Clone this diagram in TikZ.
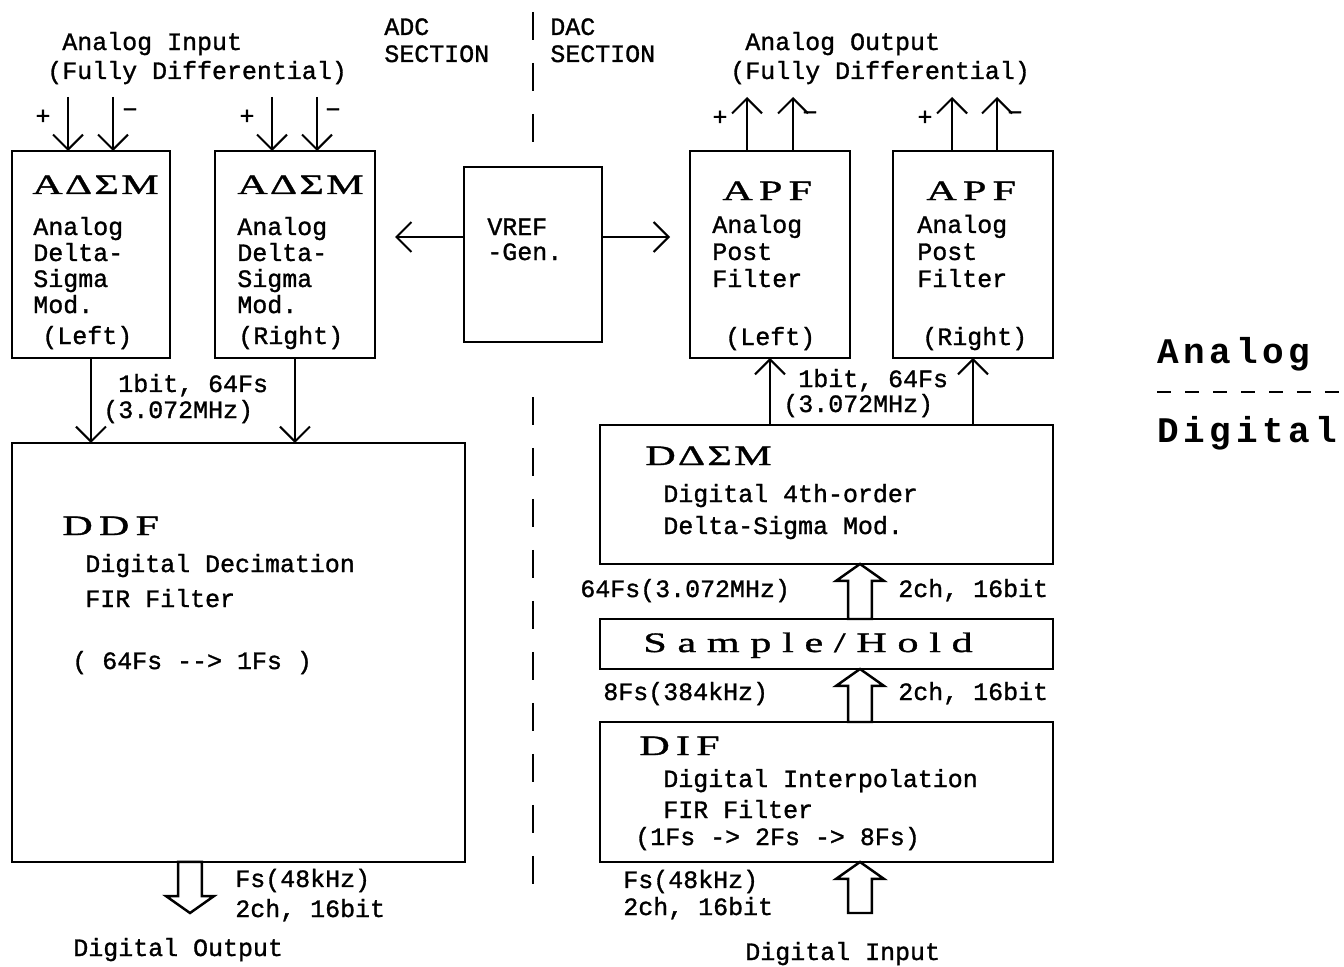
\documentclass[tikz,border=0pt]{standalone}
\usepackage{fontspec}
\usetikzlibrary{positioning, arrows.meta, calc}
\newfontfamily\bodyfont[FakeBold=1.2]{Liberation Mono}
\newfontfamily\titlefont[FakeStretch=1.5, LetterSpace=22, FakeBold=1.2]{Liberation Serif}
\newfontfamily\legendfont[LetterSpace=13]{Liberation Mono}
\tikzset{
  blk/.style={draw, line width=1.5pt, fill=white, inner sep=0pt, outer sep=0pt,
    anchor=north west},
  txt/.style={font=\bodyfont\fontsize{14.2}{#1}\selectfont, inner sep=0pt,
    anchor=base west, align=left},
  txt/.default=14.8,
  ttl/.style={font=\titlefont\fontsize{16}{18}\selectfont, inner sep=0pt,
    anchor=base west},
  greekttl/.style={ttl, font=\titlefont\fontsize{16}{18}\selectfont\addfontfeature{LetterSpace=8}},
  pm/.style={font=\bodyfont\fontsize{14.2}{15}\selectfont, inner sep=0pt},
  sig/.style={-{Straight Barb[length=0.3cm, width=0.6cm]}, line width=1.2pt},
  fat/.style={line width=1.4pt, fill=white, line join=miter},
  divider/.style={line width=1.3pt, dash pattern=on 0.56cm off 0.46cm},
  legend/.style={font=\legendfont\bfseries\fontsize{20.5}{24}\selectfont,
    inner sep=0pt, anchor=base west},
}
% hollow block arrow: tail, tip, sign (- up, + down)
\newcommand{\fatarrow}[3]{%
  \draw[fat] let \p1=(#1), \p2=(#2) in
    ({\x1-6.8pt},\y1) -- ({\x1-6.8pt},{\y2 #3 9.6pt}) -- ({\x1-13.6pt},{\y2 #3 9.6pt})
    -- (\x1,\y2) -- ({\x1+13.6pt},{\y2 #3 9.6pt}) -- ({\x1+6.8pt},{\y2 #3 9.6pt})
    -- ({\x1+6.8pt},\y1) -- cycle;}

\begin{document}
\begin{tikzpicture}[x=0.02cm, y=-0.02cm]
  \useasboundingbox (0,0) rectangle (1344,966);

  % === Section headings and divider ===
  % (multi-line nodes sit on the baseline of their last line)
  \node[txt=15.4] (adcHead) at (384,62) {ADC\\SECTION};
  \node[txt=15.4] (dacHead) at (550,62) {DAC\\SECTION};
  \draw[divider] (533,12) -- (533,150);
  \draw[divider] (533,397) -- (533,885);

  % === ADC side ===
  \node[txt=16.5] (inLabel) at (47,79) {~Analog Input\\(Fully Differential)};
  \node[blk, minimum width=3.16cm, minimum height=4.14cm] (admL) at (12,151) {};
  \node[blk, minimum width=3.2cm, minimum height=4.14cm] (admR) at (215,151) {};
  \node[greekttl] (admLt) at (32,194) {AΔΣM};
  \node[txt] (admLb) at (33,313) {Analog\\Delta-\\Sigma\\Mod.};
  \node[txt] (admLs) at (42,344) {(Left)};
  \node[greekttl] (admRt) at (237,194) {AΔΣM};
  \node[txt] (admRb) at (237,313) {Analog\\Delta-\\Sigma\\Mod.};
  \node[txt] (admRs) at (238,344) {(Right)};

  \node[blk, minimum width=9.06cm, minimum height=8.38cm] (ddf) at (12,443) {};
  \node[ttl] (ddft) at (62,535) {DDF};
  \node[txt=19.9] (ddfb) at (85,607) {Digital Decimation\\FIR Filter};
  \node[txt] (ddfr) at (72,669) {( 64Fs {-}{-}> 1Fs )};

  % differential inputs
  \coordinate (inLp) at (68,97);
  \coordinate (inLm) at (113,97);
  \coordinate (inRp) at (272,97);
  \coordinate (inRm) at (317,97);
  \foreach \c in {inLp,inLm} \draw[sig] (\c) -- (\c |- admL.north);
  \foreach \c in {inRp,inRm} \draw[sig] (\c) -- (\c |- admR.north);
  \node[pm] (pLp) at (43,117) {+};
  \node[pm] (pLm) at (130,113) {−};
  \node[pm] (pRp) at (247,117) {+};
  \node[pm] (pRm) at (333,113) {−};

  % modulators -> decimation filter
  \draw[sig] (admL) -- (admL |- ddf.north);
  \draw[sig] (admR) -- (admR |- ddf.north);
  \node[txt=14.8] (adcRate) at (103,418) {~1bit, 64Fs\\(3.072MHz)};

  % digital output
  \coordinate (hxo) at (190,0);
  \coordinate (doutTip) at (190,913);
  \fatarrow{ddf.south -| hxo}{doutTip}{+}
  \node[txt=17.1] (doutRate) at (235,917) {Fs(48kHz)\\2ch, 16bit};
  \node[txt] (dout) at (73,956) {Digital Output};

  % === VREF generator ===
  \node[blk, minimum width=2.76cm, minimum height=3.5cm] (vref) at (464,167) {};
  \node[txt=14.2] (vrefb) at (487,260) {VREF\\-Gen.};
  \coordinate (vrefL) at (395,237);
  \coordinate (vrefR) at (670,237);
  \draw[sig] (vref.west |- vrefL) -- (vrefL);
  \draw[sig] (vref.east |- vrefR) -- (vrefR);

  % === DAC side ===
  \node[txt=16.5] (outLabel) at (730,79) {~Analog Output\\(Fully Differential)};
  \node[blk, minimum width=3.2cm, minimum height=4.14cm] (apfL) at (690,151) {};
  \node[blk, minimum width=3.2cm, minimum height=4.14cm] (apfR) at (893,151) {};
  \node[ttl] (apfLt) at (722,200) {APF};
  \node[txt=15.4] (apfLb) at (712,287) {Analog\\Post\\Filter};
  \node[txt] (apfLs) at (725,345) {(Left)};
  \node[ttl] (apfRt) at (926,200) {APF};
  \node[txt=15.4] (apfRb) at (917,287) {Analog\\Post\\Filter};
  \node[txt] (apfRs) at (922,345) {(Right)};

  % differential outputs
  \coordinate (outLp) at (747,97);
  \coordinate (outLm) at (793,97);
  \coordinate (outRp) at (952,97);
  \coordinate (outRm) at (997,97);
  \foreach \c in {outLp,outLm} \draw[sig] (\c |- apfL.north) -- (\c);
  \foreach \c in {outRp,outRm} \draw[sig] (\c |- apfR.north) -- (\c);
  \node[pm] (qLp) at (720,118) {+};
  \node[pm] (qLm) at (810,116) {−};
  \node[pm] (qRp) at (925,118) {+};
  \node[pm] (qRm) at (1015,116) {−};

  \node[blk, minimum width=9.06cm, minimum height=2.78cm] (dsm) at (600,425) {};
  \node[greekttl] (dsmt) at (645,465) {DΔΣM};
  \node[txt=18.2] (dsmb) at (663,534) {Digital 4th-order\\Delta-Sigma Mod.};

  \node[blk, minimum width=9.06cm, minimum height=1.0cm] (sh) at (600,619) {};
  \node[ttl] (sht) at (643,652) {\addfontfeature{LetterSpace=38}Sample/Hold};

  \node[blk, minimum width=9.06cm, minimum height=2.8cm] (dif) at (600,722) {};
  \node[ttl] (dift) at (639,755) {DIF};
  \node[txt=17.6] (difb) at (663,818) {Digital Interpolation\\FIR Filter};
  \node[txt] (difr) at (635,845) {(1Fs -> 2Fs -> 8Fs)};

  % modulator -> post filters
  \draw[sig] (apfL |- dsm.north) -- (apfL);
  \draw[sig] (apfR |- dsm.north) -- (apfR);
  \node[txt=14.2] (dacRate) at (783,412) {~1bit, 64Fs\\(3.072MHz)};

  % wide data paths
  \coordinate (hx) at (860,0);
  \coordinate (dinTail) at (860,913);
  \fatarrow{sh.north -| hx}{dsm.south -| hx}{-}
  \fatarrow{dif.north -| hx}{sh.south -| hx}{-}
  \fatarrow{dinTail}{dif.south -| hx}{-}
  \node[txt] (shRate) at (580,597) {64Fs(3.072MHz)};
  \node[txt] (shBits) at (898,597) {2ch, 16bit};
  \node[txt] (difRate) at (603,700) {8Fs(384kHz)};
  \node[txt] (difBits) at (898,700) {2ch, 16bit};
  \node[txt=15.4] (dinRate) at (623,915) {Fs(48kHz)\\2ch, 16bit};
  \node[txt] (din) at (745,960) {Digital Input};

  % === Legend ===
  \node[legend] (lgA) at (1157,363) {Analog};
  \node[legend] (lgD) at (1157,442) {Digital};
  \draw[line width=1.3pt, dash pattern=on 0.28cm off 0.28cm] (lgA.west |- 0,392) -- (1344,392);

\end{tikzpicture}
\end{document}
